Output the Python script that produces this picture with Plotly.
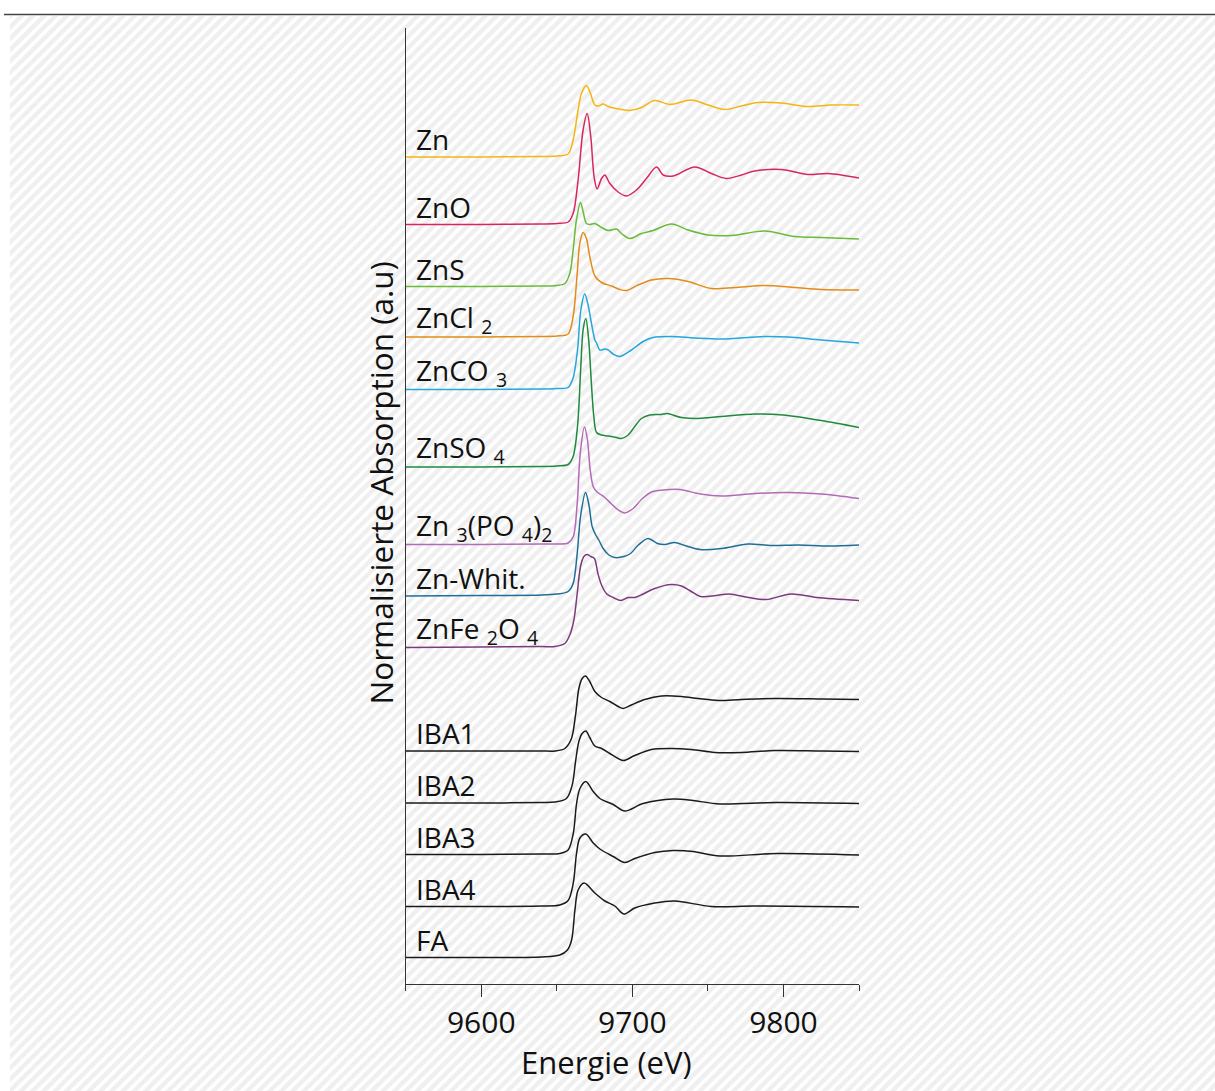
import plotly.graph_objects as go

# ---------------- data ----------------
names = ["Zn", "ZnO", "ZnS", "ZnCl2", "ZnCO3", "ZnSO4", "Zn3(PO4)2",
         "Zn-Whit.", "ZnFe2O4", "IBA1", "IBA2", "IBA3", "IBA4", "FA"]
labels = ["Zn", "ZnO", "ZnS", "ZnCl <sub>2</sub>", "ZnCO <sub>3</sub>",
          "ZnSO <sub>4</sub>", "Zn <sub>3</sub>(PO <sub>4</sub>)<sub>2</sub>",
          "Zn-Whit.", "ZnFe <sub>2</sub>O <sub>4</sub>",
          "IBA1", "IBA2", "IBA3", "IBA4", "FA"]
# vertical offsets of each spectrum (stacking)
offsets = [16.54, 15.19, 13.95, 12.94, 11.89, 10.34, 8.79,
           7.76, 6.73, 4.66, 3.62, 2.59, 1.55, 0.53]

e_zn = [9550, 9600, 9640, 9650, 9657.5, 9660.8, 9664.1, 9666.3, 9669.6, 9671.8, 9675.2, 9677.4,
        9680.7, 9684, 9692.8, 9698.3, 9706, 9714.8, 9724.8, 9739, 9750, 9761, 9772, 9783,
        9798.6, 9816, 9831.7, 9850]
a_zn = [0, 0, 0.01, 0.02, 0.06, 0.34, 0.94, 1.27, 1.43, 1.31, 1.04, 1.02,
        1.06, 1.01, 0.95, 0.93, 0.99, 1.13, 1.05, 1.14, 1.04, 0.95, 1.02, 1.09,
        1.08, 1.01, 1.04, 1.04]

e_zno = [9550, 9600, 9640, 9650, 9657.5, 9660.8, 9664.1, 9667.4, 9670.1, 9672.5, 9674.7, 9676.7,
         9679.6, 9681.8, 9685.1, 9690.6, 9696.1, 9702.7, 9709.3, 9716, 9720.4, 9727, 9741.3,
         9752.3, 9762.2, 9772.2, 9781, 9798.6, 9816.2, 9829.5, 9850]
a_zno = [0, 0, 0.01, 0.02, 0.05, 0.22, 0.89, 1.89, 2.22, 1.75, 0.95, 0.71,
         0.92, 0.99, 0.82, 0.65, 0.57, 0.69, 0.92, 1.15, 0.99, 0.97, 1.15,
         1.02, 0.92, 0.99, 1.07, 1.10, 1.00, 1.02, 0.93]

e_zns = [9550, 9600, 9640, 9650, 9655.3, 9658.6, 9660.8, 9663, 9665.7, 9667.4, 9669.6, 9671.8,
         9675.2, 9679.6, 9684, 9689.5, 9692.8, 9698.3, 9706, 9713.7, 9725.9, 9736.9, 9750.1,
         9765.5, 9787.6, 9807.4, 9825, 9850]
a_zns = [0, 0, 0.01, 0.02, 0.06, 0.26, 0.73, 1.33, 1.68, 1.50, 1.26, 1.24,
         1.26, 1.18, 1.12, 1.15, 1.06, 0.96, 1.06, 1.12, 1.25, 1.13, 1.03,
         1.02, 1.11, 1.00, 0.98, 0.95]

e_zncl2 = [9550, 9600, 9640, 9650, 9657.5, 9660.8, 9663.5, 9665.2, 9667.4, 9669.6, 9671.8, 9675.2,
           9679.6, 9686.2, 9691.7, 9696.1, 9703.8, 9712.6, 9723.7, 9736.9, 9752.3, 9767.7,
           9787.6, 9807.4, 9825, 9850]
a_zncl2 = [0, 0, 0.01, 0.02, 0.06, 0.41, 1.27, 1.87, 2.09, 1.97, 1.61, 1.22,
           1.09, 1.02, 0.95, 0.93, 1.04, 1.14, 1.17, 1.11, 0.97, 0.99,
           1.03, 0.99, 0.95, 0.94]

e_znco3 = [9550, 9600, 9640, 9650, 9657.5, 9660.8, 9663.7, 9665.9, 9668.5, 9670.7, 9672.9, 9675.2,
           9676.3, 9678.5, 9681.8, 9684, 9687.3, 9691.7, 9699.4, 9707.1, 9713.7, 9725.9, 9741.3,
           9759, 9787.6, 9803, 9825, 9850]
a_znco3 = [0, 0, 0.01, 0.02, 0.04, 0.23, 0.79, 1.59, 1.91, 1.69, 1.33, 0.99,
           0.93, 0.79, 0.81, 0.79, 0.71, 0.66, 0.79, 0.96, 1.04, 1.06, 1.03,
           1.01, 1.06, 1.05, 0.99, 0.93]

e_znso4 = [9550, 9600, 9640, 9650, 9657.5, 9660.8, 9663.7, 9665.9, 9667.4, 9669.2, 9671.1, 9672.9,
           9674.5, 9676.3, 9679.6, 9684, 9689.5, 9692.8, 9697.2, 9701.6, 9706, 9711.5, 9719.2,
           9723, 9732.5, 9743.6, 9759, 9781, 9799.7, 9825, 9850]
a_znso4 = [0, 0, 0.01, 0.02, 0.05, 0.21, 0.81, 2.01, 2.74, 2.97, 2.54, 1.67,
           1.01, 0.69, 0.64, 0.62, 0.59, 0.57, 0.64, 0.81, 0.97, 1.04, 1.05,
           1.07, 0.99, 0.97, 1.01, 1.06, 1.04, 0.93, 0.79]

e_znpo4 = [9550, 9600, 9640, 9650, 9657.5, 9660.8, 9663.5, 9665.5, 9668.3, 9670.3, 9672.1, 9674.2,
           9676.7, 9681.8, 9686.2, 9691.7, 9695, 9700.5, 9706, 9712.6, 9720.4, 9731.4, 9745,
           9759, 9781, 9803, 9825, 9850]
a_znpo4 = [0, 0, 0.01, 0.01, 0.03, 0.15, 0.82, 1.82, 2.35, 2.09, 1.49, 1.15,
           1.05, 0.94, 0.81, 0.67, 0.63, 0.72, 0.90, 1.05, 1.09, 1.10, 1.01,
           0.97, 1.02, 1.04, 1.01, 0.92]

e_whit = [9550, 9600, 9640, 9650, 9657.5, 9660.8, 9663.5, 9665.7, 9669, 9671.1, 9673.4, 9675.6,
          9677.8, 9680.7, 9684.5, 9688.4, 9694.4, 9698.8, 9704, 9710.4, 9716.6, 9721.5, 9727.9,
          9735.8, 9744.7, 9759, 9776.6, 9792, 9810, 9830, 9850]
a_whit = [0, 0.01, 0.02, 0.04, 0.09, 0.25, 0.85, 1.59, 2.07, 1.85, 1.39, 1.23,
          1.12, 0.95, 0.82, 0.77, 0.79, 0.85, 1.02, 1.15, 1.05, 1.03, 1.07,
          1.00, 0.93, 0.95, 1.04, 1.01, 1.02, 1.00, 1.02]

e_znfe = [9550, 9600, 9640, 9648.7, 9655.3, 9658.6, 9661.3, 9663.5, 9665.7, 9667.9, 9670.1, 9672.5,
          9674.9, 9677.2, 9679.6, 9683.1, 9687.3, 9692.4, 9697.2, 9701.6, 9707.1, 9714.8, 9725.7,
          9732.5, 9739, 9745, 9755.4, 9764, 9777, 9788.7, 9805, 9822, 9850]
a_znfe = [0, 0.01, 0.02, 0.02, 0.08, 0.25, 0.55, 1.08, 1.62, 1.82, 1.86, 1.82,
          1.78, 1.48, 1.25, 1.07, 1.00, 0.94, 1.00, 1.00, 1.07, 1.18, 1.26,
          1.23, 1.12, 1.02, 1.04, 1.07, 1.00, 0.96, 1.07, 1.00, 0.94]

e_iba1 = [9550, 9600, 9640, 9648.7, 9655.3, 9659.7, 9662.4, 9664.6, 9666.8, 9669, 9671.8, 9675.2,
          9679.6, 9685.1, 9690.6, 9693.9, 9699.4, 9708.2, 9719.2, 9732.5, 9743.5, 9756.7,
          9772.2, 9794.2, 9825, 9850]
a_iba1 = [0, 0, 0.0, 0.0, 0.05, 0.25, 0.72, 1.25, 1.45, 1.50, 1.39, 1.19,
          1.07, 0.99, 0.89, 0.85, 0.92, 1.03, 1.10, 1.09, 1.05, 1.01,
          1.03, 1.05, 1.04, 1.03]

e_iba2 = [9550, 9600, 9640, 9648.7, 9656.4, 9660.2, 9662.4, 9664.6, 9666.8, 9669.2, 9671.8, 9675.2,
          9679.6, 9685.1, 9690.6, 9694.3, 9701.6, 9712.6, 9725.9, 9739, 9754.5, 9772.2,
          9794.2, 9825, 9850]
a_iba2 = [0, 0, 0.01, 0.02, 0.09, 0.36, 0.83, 1.23, 1.39, 1.44, 1.31, 1.14,
          1.09, 0.99, 0.89, 0.85, 0.95, 1.07, 1.09, 1.07, 1.01, 1.01,
          1.05, 1.04, 1.03]

e_iba3 = [9550, 9600, 9640, 9652, 9657.5, 9660.9, 9663.1, 9665.3, 9669.2, 9674.1, 9678.5, 9687.3,
          9695, 9707.1, 9727, 9740.2, 9757.9, 9795.4, 9850]
a_iba3 = [0, 0, 0.01, 0.02, 0.09, 0.42, 1.02, 1.32, 1.46, 1.26, 1.12, 1.00,
          0.87, 1.02, 1.11, 1.08, 1.01, 1.04, 1.02]

e_iba4 = [9550, 9600, 9640, 9652, 9657.5, 9660.9, 9663.1, 9665.3, 9669.2, 9674.1, 9678.5, 9687.3,
          9695, 9701.6, 9714.8, 9727, 9740.2, 9757.9, 9795.4, 9850]
a_iba4 = [0, 0, 0.01, 0.03, 0.12, 0.47, 1.07, 1.37, 1.45, 1.27, 1.15, 1.00,
          0.88, 0.96, 1.08, 1.12, 1.10, 1.01, 1.06, 1.03]

e_fa = [9550, 9600, 9640, 9652, 9657, 9659.8, 9662, 9664.1, 9668.1, 9675.2, 9681.8, 9688.4,
        9694.3, 9701.6, 9714.8, 9728, 9752.3, 9781, 9850]
a_fa = [0, 0, 0.01, 0.05, 0.15, 0.35, 0.95, 1.35, 1.49, 1.29, 1.13, 1.03,
        0.87, 0.99, 1.09, 1.13, 1.02, 1.03, 1.01]

energies = [e_zn, e_zno, e_zns, e_zncl2, e_znco3, e_znso4, e_znpo4, e_whit, e_znfe,
            e_iba1, e_iba2, e_iba3, e_iba4, e_fa]
absorb = [a_zn, a_zno, a_zns, a_zncl2, a_znco3, a_znso4, a_znpo4, a_whit, a_znfe,
          a_iba1, a_iba2, a_iba3, a_iba4, a_fa]

x_ticks = [9600, 9700, 9800]
x_ticktext = ["9600", "9700", "9800"]
x_minor = [9550, 9650, 9750, 9850]

# ---------------- styles ----------------
colors = ["#f6b50f", "#d9245f", "#69bb3a", "#e48c16", "#24a6df", "#1e8a3d", "#b46ab6",
          "#1f6e96", "#7a3a7c", "#1a1a1a", "#1a1a1a", "#1a1a1a", "#1a1a1a", "#1a1a1a"]
FONT = "Open Sans"
W, H = 1215, 1091
ML, MT = 10, 16
PW, PH = W - ML, H - MT


def px_x(px):
    return (px - ML) / PW


def px_y(py):
    return (H - py) / PH


fig = go.Figure()

# hatched background (full page area)
fig.add_trace(go.Scatter(
    x=[0, 1, 1, 0, 0], y=[0, 0, 1, 1, 0], mode="lines", fill="toself",
    line=dict(width=0, color="rgba(0,0,0,0)"),
    fillcolor="#ffffff",
    fillpattern=dict(shape="/", size=8, solidity=0.55, fgcolor="#e0e0e0", bgcolor="#ffffff"),
    hoverinfo="skip", showlegend=False, xaxis="x", yaxis="y"))

for name, e, a, off, col in zip(names, energies, absorb, offsets, colors):
    fig.add_trace(go.Scatter(
        x=e, y=[v + off for v in a], mode="lines", name=name,
        line=dict(color=col, width=1.5, shape="spline", smoothing=0.9),
        showlegend=False, xaxis="x2", yaxis="y2"))

annotations = []
for lab, off in zip(labels, offsets):
    annotations.append(dict(
        x=9556.2, y=off + 0.36, xref="x2", yref="y2", text=lab, showarrow=False,
        xanchor="left", yanchor="middle", borderpad=0,
        font=dict(family=FONT, size=28, color="#111111")))

annotations.append(dict(
    x=px_x(380), y=px_y(483.5), xref="paper", yref="paper",
    text="Normalisierte Absorption (a.u)", textangle=-90, showarrow=False,
    xanchor="center", yanchor="middle",
    font=dict(family=FONT, size=31.5, color="#111111")))
annotations.append(dict(
    x=px_x(606.7), y=px_y(1062), xref="paper", yref="paper",
    text="Energie (eV)", showarrow=False, xanchor="center", yanchor="middle",
    font=dict(family=FONT, size=31, color="#111111")))

fig.update_layout(
    width=W, height=H,
    margin=dict(l=ML, r=0, t=MT, b=0),
    paper_bgcolor="#ffffff", plot_bgcolor="rgba(0,0,0,0)",
    showlegend=False,
    xaxis=dict(domain=[0, 1], range=[0, 1], visible=False, fixedrange=True),
    yaxis=dict(domain=[0, 1], range=[0, 1], visible=False, fixedrange=True),
    xaxis2=dict(domain=[px_x(405.7), px_x(859)], anchor="y2", range=[9550, 9850],
                showgrid=False, zeroline=False, showline=True, linecolor="#333333", linewidth=1.3,
                ticks="outside", ticklen=12, tickwidth=1.3, tickcolor="#333333",
                tickmode="array", tickvals=x_ticks, ticktext=x_ticktext,
                minor=dict(tickmode="array", tickvals=x_minor, ticks="outside", ticklen=6,
                           tickwidth=1.3, tickcolor="#333333", showgrid=False),
                tickfont=dict(family=FONT, size=30, color="#111111")),
    yaxis2=dict(domain=[px_y(984), px_y(28)], anchor="x2", range=[0, 19.12],
                showgrid=False, zeroline=False, showline=True, linecolor="#333333", linewidth=1.3,
                showticklabels=False, ticks=""),
    annotations=annotations,
    shapes=[dict(type="line", xref="paper", yref="paper",
                 x0=px_x(4), x1=1.0, y0=px_y(14.5), y1=px_y(14.5),
                 line=dict(color="#444444", width=1.5))],
)

fig.write_html("out.html")
